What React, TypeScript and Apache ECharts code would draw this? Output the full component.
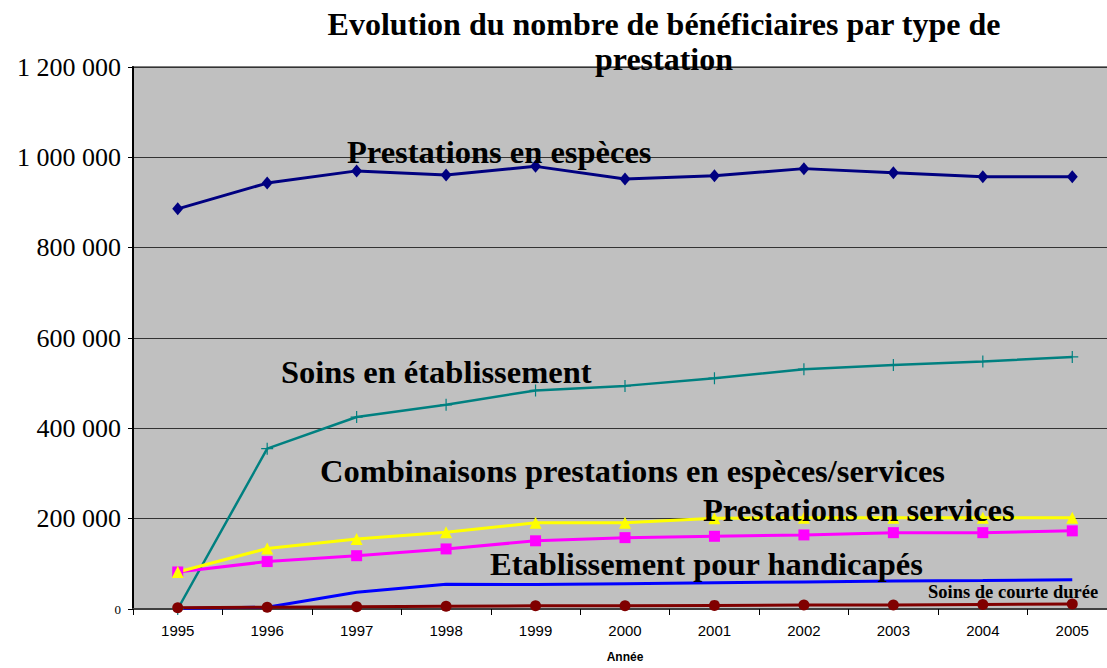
import React, { useEffect, useRef } from "react";
import * as echarts from "echarts";

const years = ["1995", "1996", "1997", "1998", "1999", "2000", "2001", "2002", "2003", "2004", "2005"];
const prestationsEspeces = [886000, 943000, 970000, 961000, 980000, 952000, 959000, 975000, 966000, 957000, 957000];
const soinsEtablissement = [0, 355000, 425000, 452000, 484000, 494000, 511000, 531000, 540000, 548000, 558000];
const combinaisons = [82000, 134000, 155000, 170000, 191000, 191000, 201000, 202000, 202000, 202000, 202000];
const prestationsServices = [82000, 105000, 118000, 133000, 151000, 158000, 161000, 164000, 169000, 169000, 173000];
const etablissementHandicapes = [1000, 4000, 37000, 55000, 54000, 56000, 58000, 60000, 62000, 63000, 65000];
const soinsCourteDuree = [3000, 4000, 5000, 6000, 7000, 7000, 8000, 9000, 9000, 10000, 11000];

const titleLines = ["Evolution du nombre de bénéficiaires par type de", "prestation"];
const yTicks = { min: 0, max: 1200000, interval: 200000 };

const SERIF = "Liberation Serif";
const SANS = "Liberation Sans";

const plusPath = "path://M4.5,0h1v4.5h4.5v1h-4.5v4.5h-1v-4.5h-4.5v-1h4.5z";

function fmt(v: number): string {
  return String(v).replace(/\B(?=(\d{3})+(?!\d))/g, " ");
}

export default function App() {
  const ref = useRef<HTMLDivElement>(null);
  useEffect(() => {
    if (!ref.current) return;
    const chart = echarts.init(ref.current, undefined, { renderer: "svg" });
    const ann = (text: string, x: number, baseline: number, size: number) => ({
      type: "text",
      x,
      y: baseline - 0.34 * size,
      style: {
        text,
        font: `bold ${size}px "${SERIF}", serif`,
        fill: "#000",
        textAlign: "left",
        textVerticalAlign: "middle",
      },
      z: 100,
    });
    const lineSeries = (name: string, data: number[], color: string, symbol: string, size: number | number[], width = 3) => ({
      name,
      type: "line",
      data,
      symbol,
      symbolSize: size,
      showSymbol: symbol !== "none",
      lineStyle: { color, width },
      itemStyle: { color, borderWidth: 0 },
      emphasis: { disabled: true },
    });
    chart.setOption({
      animation: false,
      backgroundColor: "#fff",
      grid: {
        left: 133,
        right: 0,
        top: 67,
        bottom: 57,
        show: true,
        backgroundColor: "#C0C0C0",
        borderColor: "#808080",
        borderWidth: 2,
      },
      xAxis: {
        type: "category",
        data: years,
        boundaryGap: true,
        name: "Année",
        nameLocation: "middle",
        nameGap: 42,
        nameTextStyle: { fontFamily: SANS, fontWeight: "bold", fontSize: 12, color: "#000" },
        axisLine: { lineStyle: { color: "#404040", width: 2 } },
        axisTick: { show: true, length: 6, lineStyle: { color: "#000" } },
        axisLabel: { fontFamily: SANS, fontSize: 15, color: "#000", margin: 14 },
        splitLine: { show: false },
      },
      yAxis: {
        type: "value",
        min: yTicks.min,
        max: yTicks.max,
        interval: yTicks.interval,
        axisLine: { show: true, lineStyle: { color: "#000", width: 2 } },
        axisTick: { show: true, length: 5, lineStyle: { color: "#000" } },
        axisLabel: {
          fontFamily: SERIF,
          fontSize: 26,
          color: "#000",
          margin: 12,
          formatter: (v: number) => (v === 0 ? "{s|0}" : "{n|" + fmt(v) + "}"),
          rich: {
            n: { fontFamily: SERIF, fontSize: 26, color: "#000" },
            s: { fontFamily: SERIF, fontSize: 13, color: "#000" },
          },
        },
        splitLine: { show: true, lineStyle: { color: "#333", width: 1 } },
      },
      graphic: [
        {
          type: "text",
          x: 664,
          y: 35 - 0.34 * 32,
          style: { text: titleLines[0], font: `bold 32px "${SERIF}", serif`, fill: "#000", textAlign: "center", textVerticalAlign: "middle" },
          z: 100,
        },
        {
          type: "text",
          x: 664,
          y: 70 - 0.34 * 32,
          style: { text: titleLines[1], font: `bold 32px "${SERIF}", serif`, fill: "#000", textAlign: "center", textVerticalAlign: "middle" },
          z: 100,
        },
        ann("Prestations en espèces", 347, 163, 32.5),
        ann("Soins en établissement", 281, 383, 32.5),
        ann("Combinaisons prestations en espèces/services", 320, 482, 32.5),
        ann("Prestations en services", 703, 521, 32.5),
        ann("Etablissement pour handicapés", 490, 575, 32.5),
        ann("Soins de courte durée", 928, 598, 18.5),
      ],
      series: [
        lineSeries("Prestations en espèces", prestationsEspeces, "#000080", "diamond", [11, 13]),
        lineSeries("Soins en établissement", soinsEtablissement, "#008080", plusPath, 12, 2.5),
        lineSeries("Etablissement pour handicapés", etablissementHandicapes, "#0000FF", "none", 0),
        lineSeries("Soins de courte durée", soinsCourteDuree, "#800000", "circle", 11),
        lineSeries("Prestations en services", prestationsServices, "#FF00FF", "rect", 11),
        lineSeries("Combinaisons prestations en espèces/services", combinaisons, "#FFFF00", "triangle", 12),
      ],
    });
    return () => chart.dispose();
  }, []);
  return (
    <div style={{ position: "absolute", left: 0, top: 0, width: 1107, height: 668, overflow: "hidden" }}>
      <div ref={ref} style={{ width: 1117, height: 668 }} />
    </div>
  );
}
